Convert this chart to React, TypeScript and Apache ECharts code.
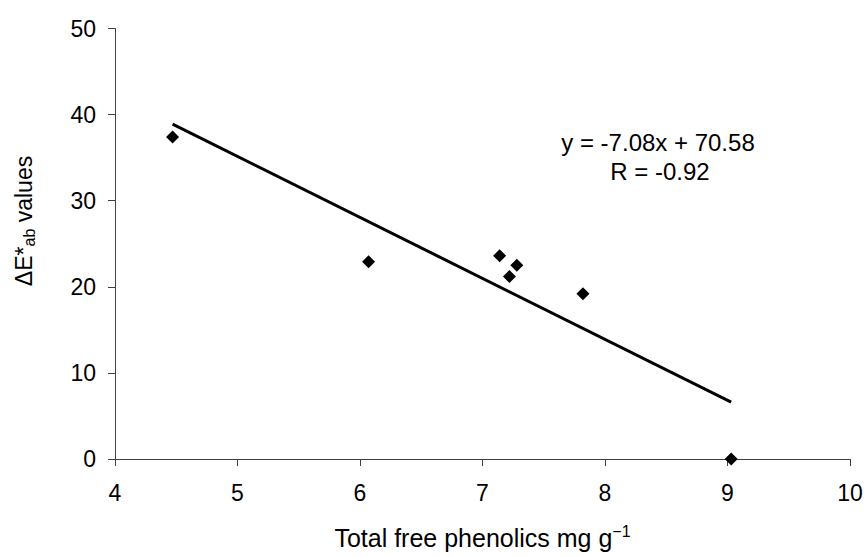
import React, { useEffect, useRef } from "react";
import * as echarts from "echarts";

const xTicks = [4, 5, 6, 7, 8, 9, 10];
const yTicks = [0, 10, 20, 30, 40, 50];
const phenolics = [4.47, 6.07, 7.14, 7.28, 7.22, 7.82, 9.03];
const deltaE = [37.4, 22.9, 23.6, 22.5, 21.2, 19.2, 0.0];
const trendX = [4.47, 9.03];
const trendY = [38.9, 6.6];
const equationText = "y = -7.08x + 70.58";
const rText = "R = -0.92";

const FONT = "'Liberation Sans', Arial, Helvetica, sans-serif";

export default function App() {
  const ref = useRef<HTMLDivElement>(null);
  useEffect(() => {
    if (!ref.current) return;
    const chart = echarts.init(ref.current, undefined, { renderer: "svg" });
    const points = phenolics.map((x, i) => [x, deltaE[i]]);
    const trend = trendX.map((x, i) => [x, trendY[i]]);
    chart.setOption({
      animation: false,
      backgroundColor: "#ffffff",
      textStyle: { fontFamily: FONT },
      grid: { left: 115, right: 16, top: 28.5, bottom: 98, containLabel: false, outerBoundsMode: "none" },
      xAxis: {
        type: "value",
        min: xTicks[0],
        max: xTicks[xTicks.length - 1],
        interval: 1,
        name: "{n|Total free phenolics mg g}{sup|\u22121}",
        nameLocation: "middle",
        nameGap: 64,
        nameTextStyle: {
          rich: {
            n: { fontSize: 25, color: "#000", fontFamily: FONT },
            sup: { fontSize: 16, color: "#000", fontFamily: FONT, padding: [0, 0, 14, 0] },
          },
        },
        axisLine: { show: true, lineStyle: { color: "#404040", width: 1 } },
        axisTick: { show: true, length: 7, lineStyle: { color: "#404040" } },
        axisLabel: { fontSize: 23, color: "#000", margin: 22, fontFamily: FONT },
        splitLine: { show: false },
      },
      yAxis: {
        type: "value",
        min: yTicks[0],
        max: yTicks[yTicks.length - 1],
        interval: 10,
        axisLine: { show: true, lineStyle: { color: "#404040", width: 1 } },
        axisTick: { show: true, length: 7, lineStyle: { color: "#404040" } },
        axisLabel: { fontSize: 23, color: "#000", margin: 19, fontFamily: FONT },
        splitLine: { show: false },
      },
      series: [
        {
          type: "line",
          data: trend,
          symbol: "none",
          lineStyle: { color: "#000", width: 3 },
          z: 2,
        },
        {
          type: "scatter",
          data: points,
          symbol: "diamond",
          symbolSize: 13,
          itemStyle: { color: "#000", opacity: 1 },
          z: 3,
        },
      ],
      graphic: [
        {
          type: "text",
          x: 24,
          y: 221,
          rotation: Math.PI / 2,
          style: {
            text: "{n|\u0394E*}{sub|ab}{n| values}",
            textAlign: "center",
            textVerticalAlign: "middle",
            rich: {
              n: { fontSize: 23, fill: "#000", fontFamily: FONT },
              sub: { fontSize: 16, fill: "#000", fontFamily: FONT, padding: [10, 0, 0, 0] },
            },
          },
        },
        {
          type: "text",
          x: 658,
          y: 142,
          style: {
            text: equationText,
            fontSize: 24,
            fontFamily: FONT,
            fill: "#000",
            textAlign: "center",
            textVerticalAlign: "middle",
          },
        },
        {
          type: "text",
          x: 660,
          y: 171,
          style: {
            text: rText,
            fontSize: 24,
            fontFamily: FONT,
            fill: "#000",
            textAlign: "center",
            textVerticalAlign: "middle",
          },
        },
      ],
    });
    return () => chart.dispose();
  }, []);
  return <div ref={ref} style={{ width: 866, height: 557, position: "absolute", left: 0, top: 0 }} />;
}
